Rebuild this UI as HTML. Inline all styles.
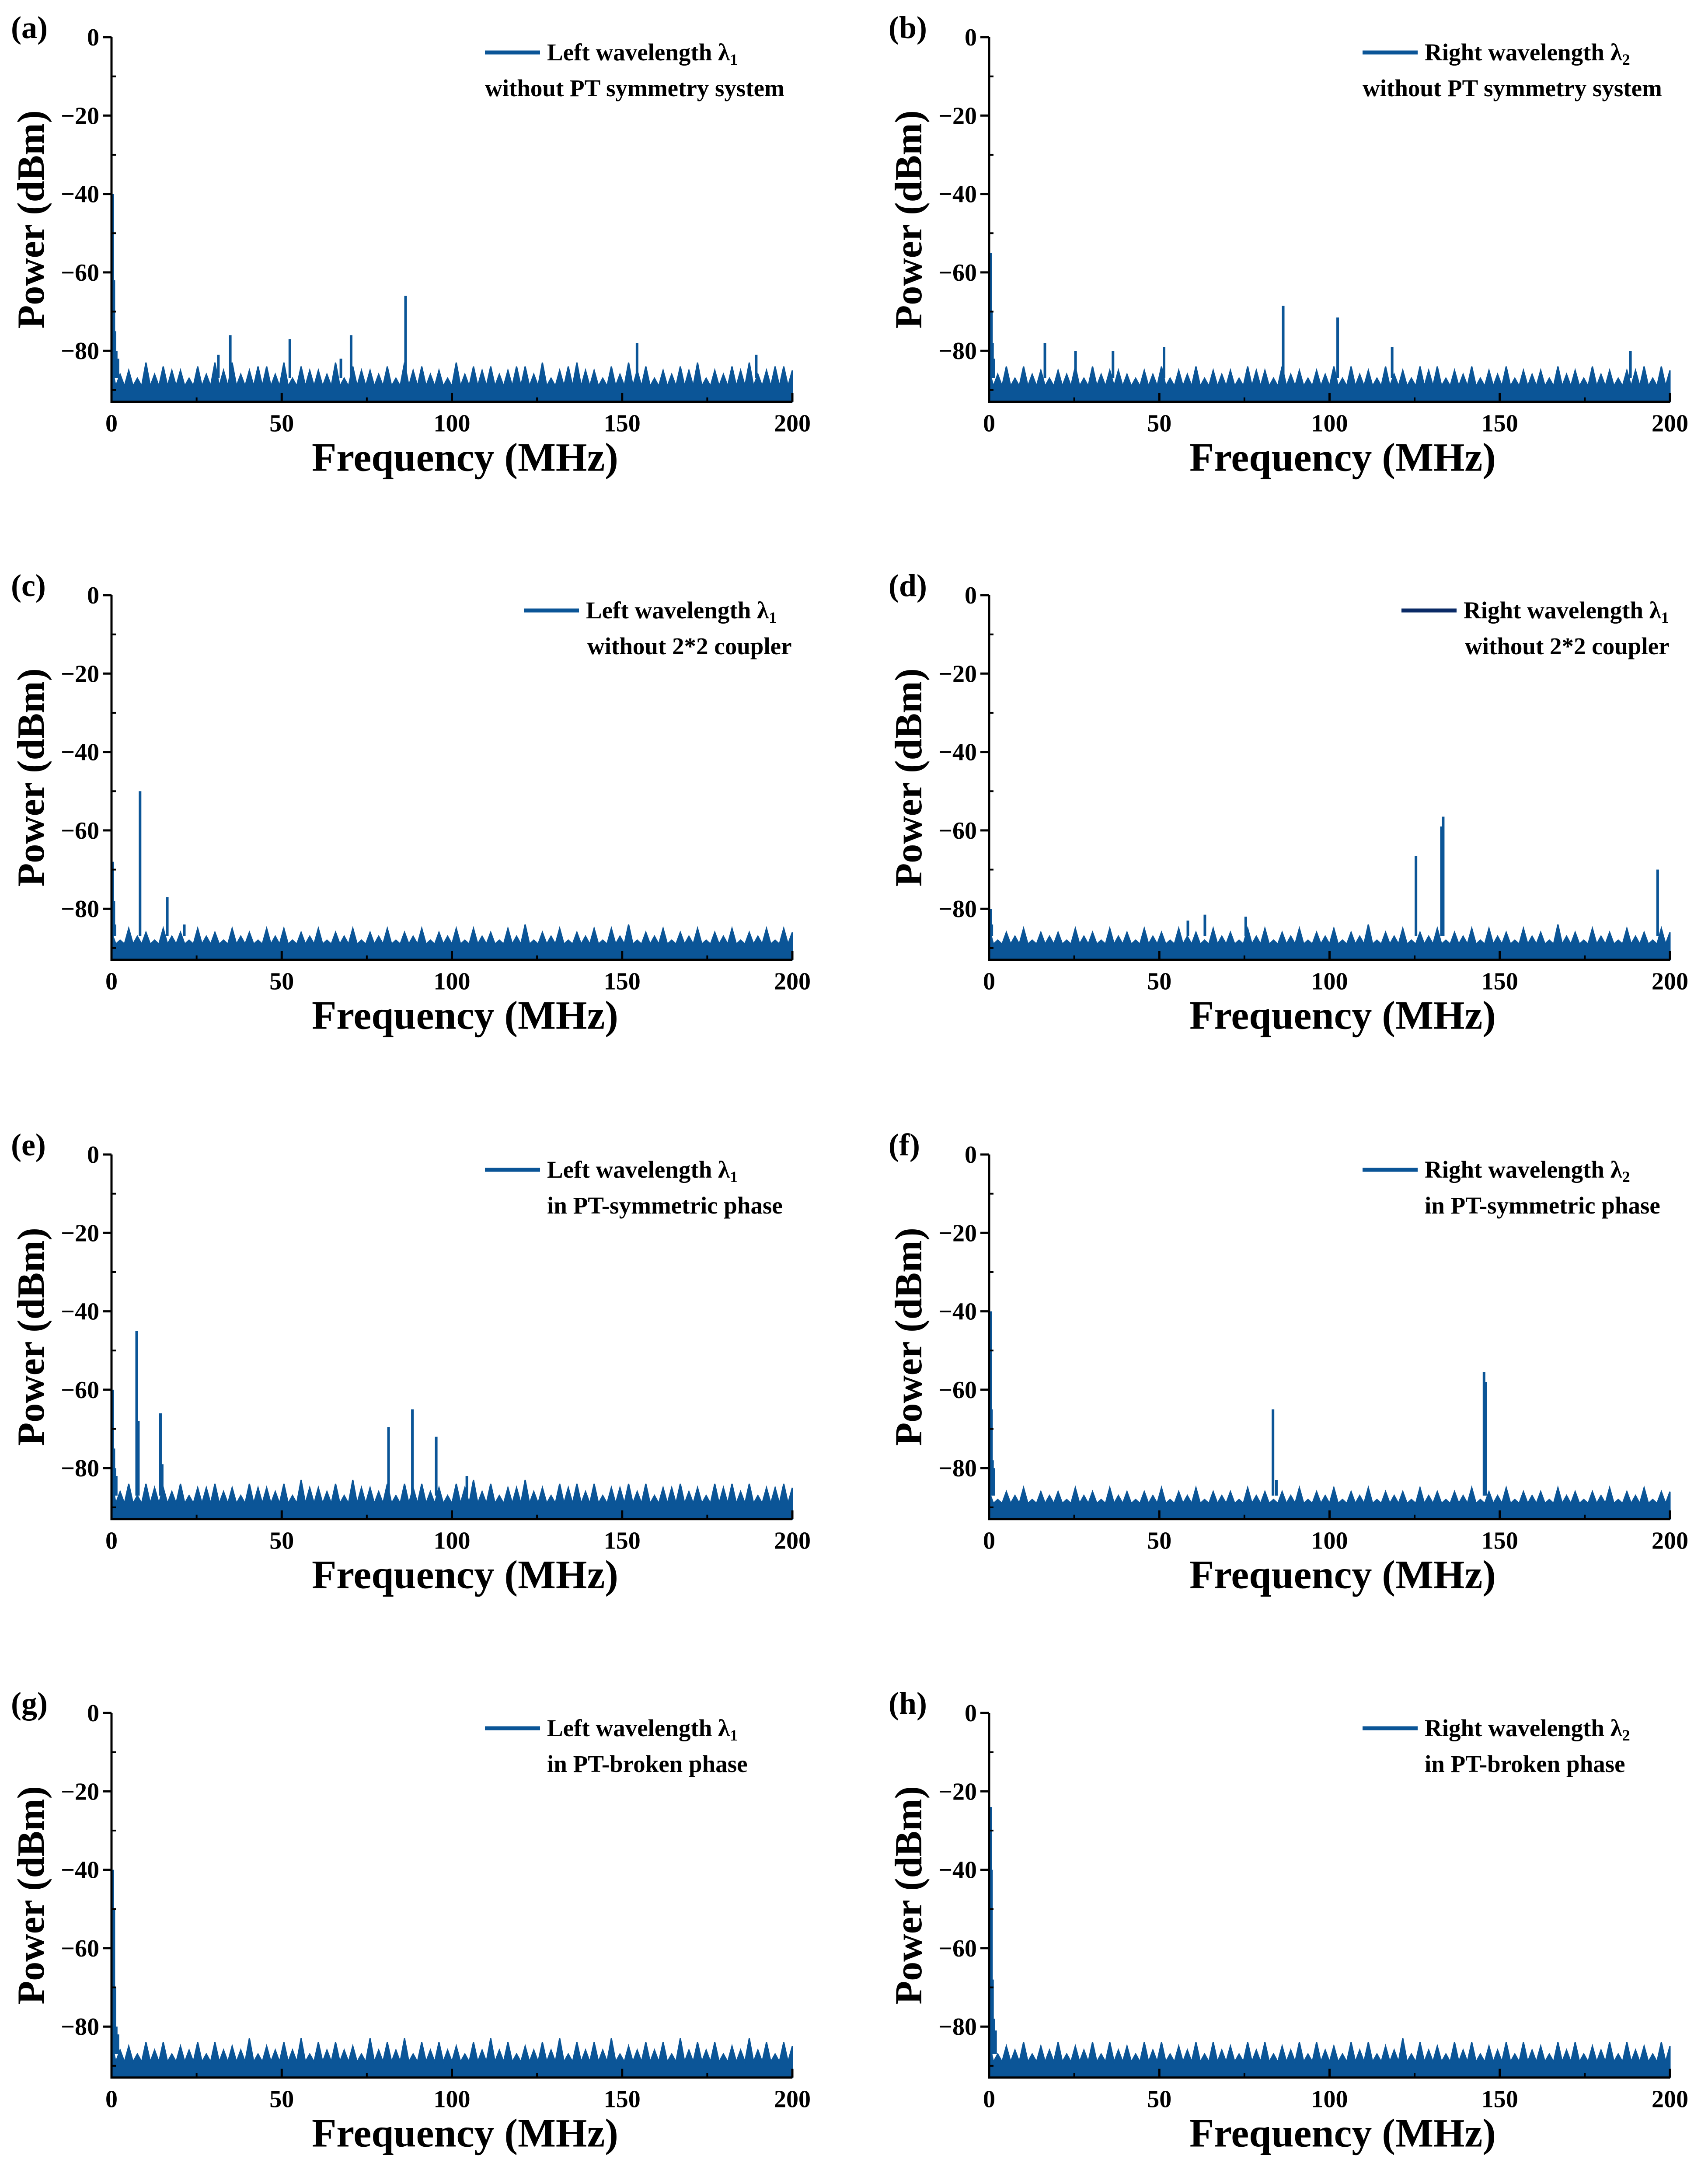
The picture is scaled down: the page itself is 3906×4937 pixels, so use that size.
<!DOCTYPE html>
<html><head><meta charset="utf-8"><style>
html,body{margin:0;padding:0;background:#fff;}
svg{display:block;font-family:"Liberation Serif",serif;font-weight:bold;}
</style></head><body>
<svg id="fig" width="3906" height="4937" viewBox="0 0 3906 4937" xmlns="http://www.w3.org/2000/svg"></svg>
<script>
// ---- data ----
const xTicks = [0, 50, 100, 150, 200];
const yTicks = [0, -20, -40, -60, -80];
const panelLabels = ["(a)","(b)","(c)","(d)","(e)","(f)","(g)","(h)"];
const legend1 = ["Left wavelength λ","Right wavelength λ","Left wavelength λ","Right wavelength λ","Left wavelength λ","Right wavelength λ","Left wavelength λ","Right wavelength λ"];
const legendSub = ["1","2","1","1","1","2","1","2"];
const legend2 = ["without PT symmetry system","without PT symmetry system","without 2*2 coupler","without 2*2 coupler","in PT-symmetric phase","in PT-symmetric phase","in PT-broken phase","in PT-broken phase"];

const noiseA = [-84,-86,-85,-87,-83,-86,-84,-85,-85,-87,-84,-86,-83,-85,-83,-86,-85,-84,-84,-86,-83,-87,-84,-85,-85,-86,-83,-87,-84,-85,-85,-86,-84,-87,-83,-85,-84,-86,-85,-87,-83,-86,-84,-85,-84,-86,-85,-84,-84,-86,-83,-87,-85,-84,-83,-85,-85,-87,-84,-86,-83,-85,-84,-87,-85,-86,-84,-85,-83,-87,-85,-86,-84,-85,-83,-86,-85,-84,-84,-85];
const noiseB = [-85,-86,-84,-87,-84,-86,-85,-87,-85,-86,-84,-87,-84,-86,-85,-85,-86,-87,-85,-86,-84,-87,-85,-86,-84,-87,-85,-86,-85,-87,-84,-85,-85,-87,-84,-86,-85,-87,-85,-86,-84,-87,-84,-86,-85,-87,-84,-86,-85,-87,-84,-85,-84,-87,-85,-86,-84,-87,-85,-86,-84,-87,-85,-86,-85,-87,-84,-86,-85,-87,-84,-86,-85,-87,-85,-85,-84,-87,-84,-85];
const noiseC = [-86,-88,-85,-87,-86,-88,-85,-87,-86,-88,-85,-87,-86,-88,-85,-87,-86,-88,-85,-87,-85,-88,-86,-87,-85,-88,-86,-87,-85,-88,-86,-87,-85,-88,-86,-87,-85,-88,-86,-87,-85,-88,-85,-87,-86,-88,-85,-87,-84,-88,-86,-87,-85,-88,-86,-87,-85,-88,-85,-87,-84,-88,-86,-87,-85,-88,-86,-87,-85,-88,-86,-87,-85,-88,-86,-87,-85,-88,-85,-86];
const noiseD = [-85,-88,-86,-87,-85,-88,-86,-87,-86,-88,-85,-87,-86,-88,-85,-87,-86,-88,-85,-87,-86,-88,-85,-87,-86,-88,-85,-87,-86,-88,-85,-87,-85,-88,-86,-87,-85,-88,-86,-87,-85,-88,-86,-87,-84,-88,-86,-87,-85,-88,-86,-87,-85,-88,-86,-87,-85,-88,-85,-87,-86,-88,-85,-87,-86,-88,-84,-87,-86,-88,-85,-87,-86,-88,-85,-87,-86,-88,-85,-86];
const noiseE = [-83,-86,-84,-87,-84,-85,-85,-86,-84,-87,-85,-85,-84,-86,-85,-87,-84,-85,-85,-86,-84,-87,-83,-85,-85,-86,-84,-87,-83,-85,-85,-86,-84,-87,-84,-85,-84,-86,-85,-87,-84,-85,-83,-86,-84,-87,-85,-85,-83,-86,-85,-87,-84,-85,-84,-86,-84,-87,-85,-85,-84,-86,-84,-87,-85,-85,-84,-86,-85,-87,-84,-85,-84,-86,-84,-87,-85,-85,-84,-85];
const noiseF = [-86,-88,-86,-87,-85,-88,-86,-87,-86,-88,-85,-87,-86,-88,-85,-87,-86,-88,-86,-87,-85,-88,-86,-87,-85,-88,-86,-87,-86,-88,-85,-87,-86,-88,-86,-87,-85,-88,-86,-87,-85,-88,-86,-87,-85,-88,-86,-87,-86,-88,-85,-87,-86,-88,-86,-87,-85,-88,-86,-87,-85,-88,-86,-87,-86,-88,-85,-87,-86,-88,-86,-87,-85,-88,-86,-87,-85,-88,-86,-86];
const noiseG = [-84,-86,-85,-87,-84,-86,-84,-87,-85,-86,-84,-87,-84,-86,-85,-86,-83,-87,-85,-86,-84,-86,-83,-87,-84,-86,-84,-86,-85,-87,-83,-86,-84,-86,-83,-87,-84,-86,-84,-86,-85,-87,-84,-86,-83,-86,-84,-87,-85,-86,-84,-86,-83,-87,-84,-86,-84,-86,-83,-87,-85,-86,-84,-86,-84,-87,-83,-86,-84,-86,-84,-87,-85,-86,-83,-86,-84,-87,-84,-85];
const noiseH = [-84,-87,-85,-86,-84,-87,-85,-86,-84,-87,-85,-86,-84,-87,-84,-86,-85,-87,-84,-86,-84,-87,-85,-86,-84,-87,-84,-86,-85,-87,-84,-86,-84,-87,-85,-86,-84,-87,-84,-86,-85,-87,-84,-86,-84,-87,-85,-86,-83,-87,-84,-86,-85,-87,-84,-86,-84,-87,-85,-86,-84,-87,-84,-86,-85,-87,-84,-86,-84,-87,-85,-86,-84,-87,-84,-86,-85,-87,-84,-85];

const peakFreqA = [0,0.3,0.6,1,1.5,31,34.5,52,67,70,86,154,189];
const peakValA  = [-40,-62,-75,-80,-82,-81,-76,-77,-82,-76,-66,-78,-81];
const peakFreqB = [0,0.3,0.6,1,16,25,36,51,86,102,118,188];
const peakValB  = [-55,-70,-78,-82,-78,-80,-80,-79,-68.5,-71.5,-79,-80];
const peakFreqC = [0,0.3,0.6,8,16,21];
const peakValC  = [-68,-78,-84,-50,-77,-84];
const peakFreqD = [0,0.4,58,63,75,125,132.5,133,196];
const peakValD  = [-80,-84,-83,-81.5,-82,-66.5,-59,-56.5,-70];
const peakFreqE = [0,0.3,0.6,1,7,7.5,14,14.5,81,88,95,104];
const peakValE  = [-60,-75,-80,-82,-45,-68,-66,-79,-69.5,-65,-72,-82];
const peakFreqF = [0,0.3,0.6,1,83,84,145,145.5];
const peakValF  = [-40,-65,-78,-80,-65,-83,-55.5,-58];
const peakFreqG = [0,0.3,0.6,1,1.5];
const peakValG  = [-40,-50,-70,-80,-82];
const peakFreqH = [0,0.3,0.6,1,1.5];
const peakValH  = [-24,-40,-68,-78,-81];

const noises = [noiseA,noiseB,noiseC,noiseD,noiseE,noiseF,noiseG,noiseH];
const peakFreqs = [peakFreqA,peakFreqB,peakFreqC,peakFreqD,peakFreqE,peakFreqF,peakFreqG,peakFreqH];
const peakVals = [peakValA,peakValB,peakValC,peakValD,peakValE,peakValF,peakValG,peakValH];

// ---- layout ----
const NS = "http://www.w3.org/2000/svg";
const svg = document.getElementById("fig");
const BLUE = "#0b5597";
const colX = [255, 2262];
const rowY = [85, 1361, 2640, 3917];
const AW = 1557, PXDB = 8.965, YMIN = -93, FLOOR = -89;
const legLine = [854, 854, 943, 943, 854, 854, 854, 854];
const leg1x = [996, 996, 1085, 1085, 996, 996, 996, 996];
const leg2x = [854, 854, 1088, 1088, 996, 996, 996, 996];

function mk(tag, parent) { const e = document.createElementNS(NS, tag); parent.appendChild(e); return e; }

for (let p = 0; p < 8; p++) {
  const ax = colX[p % 2], y0 = rowY[Math.floor(p / 2)];
  const xs = f => ax + f / 200 * AW;
  const ys = v => y0 + (-v) * PXDB;
  const yb = ys(YMIN);
  const g = mk("g", svg);
  
  

  // noise area: each reading drawn as a spike above the solid floor band
  const n = noises[p];
  const step = 200 / (n.length - 1);
  let d = "M" + xs(0) + "," + yb + " L" + xs(0) + "," + ys(FLOOR);
  for (let i = 0; i < n.length; i++) {
    const f = i * step;
    d += " L" + xs(f).toFixed(1) + "," + ys(n[i]).toFixed(1);
    if (i < n.length - 1) d += " L" + xs(f + step / 2).toFixed(1) + "," + ys(FLOOR).toFixed(1);
  }
  d += " L" + xs(200) + "," + yb + " Z";
  const area = mk("path", g);
  
  
  area.setAttribute("d", d); area.setAttribute("fill", BLUE); area.setAttribute("stroke", BLUE); area.setAttribute("stroke-width", "3");

  // peaks
  for (let i = 0; i < peakFreqs[p].length; i++) {
    const l = mk("line", g);
    
    
    const x = xs(peakFreqs[p][i]) + 3;
    l.setAttribute("x1", x); l.setAttribute("x2", x);
    l.setAttribute("y1", ys(-87)); l.setAttribute("y2", ys(peakVals[p][i]));
    l.setAttribute("stroke", BLUE); l.setAttribute("stroke-width", "6");
  }

  // axes
  const axes = mk("path", g);
  
  
  axes.setAttribute("d", `M${ax},${y0} V${yb} H${ax + AW}`);
  axes.setAttribute("fill", "none"); axes.setAttribute("stroke", "#000"); axes.setAttribute("stroke-width", "5");

  for (const t of yTicks) {
    const tk = mk("line", g);
    
    
    tk.setAttribute("x1", ax - 20); tk.setAttribute("x2", ax); tk.setAttribute("y1", ys(t)); tk.setAttribute("y2", ys(t));
    tk.setAttribute("stroke", "#000"); tk.setAttribute("stroke-width", "5");
    const mt = mk("line", g);
    
    
    mt.setAttribute("x1", ax); mt.setAttribute("x2", ax + 10); mt.setAttribute("y1", ys(t - 10)); mt.setAttribute("y2", ys(t - 10));
    mt.setAttribute("stroke", "#000"); mt.setAttribute("stroke-width", "4");
    const lb = mk("text", g);
    
    
    lb.setAttribute("x", ax - 28); lb.setAttribute("y", ys(t) + 19);
    lb.setAttribute("text-anchor", "end"); lb.setAttribute("font-size", "56");
    lb.textContent = t === 0 ? "0" : "\u2212" + (-t);
  }
  for (let i = 0; i < xTicks.length; i++) {
    const t = xTicks[i];
    const tk = mk("line", g);
    
    
    tk.setAttribute("x1", xs(t)); tk.setAttribute("x2", xs(t)); tk.setAttribute("y1", yb); tk.setAttribute("y2", yb - 20);
    tk.setAttribute("stroke", "#000"); tk.setAttribute("stroke-width", "5");
    if (i < xTicks.length - 1) {
      const mt = mk("line", g);
      
      
      const m = (t + xTicks[i + 1]) / 2;
      mt.setAttribute("x1", xs(m)); mt.setAttribute("x2", xs(m)); mt.setAttribute("y1", yb); mt.setAttribute("y2", yb - 10);
      mt.setAttribute("stroke", "#000"); mt.setAttribute("stroke-width", "4");
    }
    const lb = mk("text", g);
    
    
    lb.setAttribute("x", xs(t)); lb.setAttribute("y", yb + 68);
    lb.setAttribute("text-anchor", "middle"); lb.setAttribute("font-size", "56");
    lb.textContent = t;
  }

  const xt = mk("text", g);
  
  
  xt.setAttribute("x", ax + AW / 2 + 30); xt.setAttribute("y", yb + 158);
  xt.setAttribute("text-anchor", "middle"); xt.setAttribute("font-size", "92");
  xt.textContent = "Frequency (MHz)";

  const yt = mk("text", g);
  
  
  const cy = (y0 + yb) / 2, cx = ax - 155;
  yt.setAttribute("transform", `translate(${cx},${cy}) rotate(-90)`);
  yt.setAttribute("text-anchor", "middle"); yt.setAttribute("font-size", "88");
  yt.setAttribute("y", "0");
  yt.textContent = "Power (dBm)";

  const pl = mk("text", g);
  
  
  pl.setAttribute("x", ax - 230); pl.setAttribute("y", y0 + 2);
  pl.setAttribute("font-size", "72");
  pl.textContent = panelLabels[p];

  // legend
  const ll = mk("line", g);
  
  
  ll.setAttribute("x1", ax + legLine[p]); ll.setAttribute("x2", ax + legLine[p] + 126);
  ll.setAttribute("y1", y0 + 35); ll.setAttribute("y2", y0 + 35);
  ll.setAttribute("stroke", p === 3 ? "#0a2a66" : BLUE); ll.setAttribute("stroke-width", "9");
  const t1 = mk("text", g);
  
  
  t1.setAttribute("x", ax + leg1x[p]); t1.setAttribute("y", y0 + 53);
  t1.setAttribute("font-size", "55");
  t1.textContent = legend1[p];
  const sub = mk("tspan", t1);
  
  
  sub.setAttribute("font-size", "36"); sub.setAttribute("dy", "10");
  sub.textContent = legendSub[p];
  const t2 = mk("text", g);
  
  
  t2.setAttribute("x", ax + leg2x[p]); t2.setAttribute("y", y0 + 135);
  t2.setAttribute("font-size", "55");
  t2.textContent = legend2[p];
}
</script>
</body></html>
